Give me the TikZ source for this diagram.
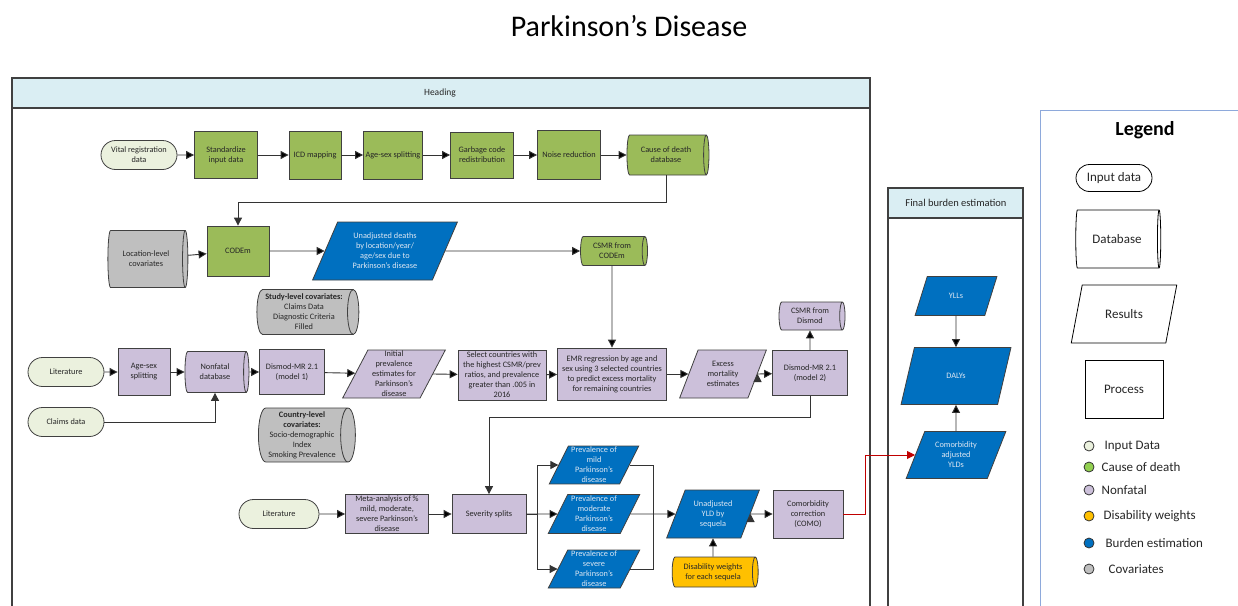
\documentclass[tikz,border=0pt]{standalone}
\usepackage{fontspec}
\setmainfont{Carlito}
\usetikzlibrary{shapes.geometric,shapes.misc,arrows.meta,positioning}

\definecolor{inpfill}{HTML}{EBF1DE}
\definecolor{codfill}{HTML}{9BBB59}
\definecolor{nffill}{HTML}{CCC0DA}
\definecolor{burfill}{HTML}{0070C0}
\definecolor{covfill}{HTML}{BFBFBF}
\definecolor{dwfill}{HTML}{FFC000}
\definecolor{headfill}{HTML}{DAEEF3}
\definecolor{lgline}{HTML}{8EA9DB}
\definecolor{edgegray}{HTML}{404040}
\definecolor{comored}{HTML}{C00000}
\definecolor{burtext}{HTML}{DCE6F2}
\definecolor{lgreen}{HTML}{92D050}

\begin{document}
\begin{tikzpicture}[x=1pt,y=-1pt,
  every node/.style={font=\fontsize{8.3}{10}\selectfont,text=black!85,align=center,inner sep=1pt},
  inp/.style={rounded rectangle,draw=edgegray,line width=0.8pt,fill=inpfill,minimum width=78,minimum height=29},
  proc/.style={rectangle,draw=edgegray,line width=0.8pt,fill=nffill},
  db/.style={cylinder,draw=edgegray,line width=0.8pt,shape aspect=0.3,fill=nffill},
  res/.style={trapezium,trapezium left angle=65,trapezium right angle=115,trapezium stretches=true,draw=edgegray,line width=0.8pt,fill=nffill},
  blue/.style={fill=burfill,text=burtext},
  arr/.style={draw=black!80,line width=0.9pt,-{Triangle[length=8pt,width=8pt]}},
  frame/.style={draw=edgegray,line width=1.2pt},
  dot/.style={circle,draw=black!80,line width=0.8pt,minimum size=10,inner sep=0pt},
  lgfont/.style={font=\fontsize{13}{15}\selectfont},
  lgtext/.style={lgfont,anchor=west}]

\useasboundingbox (0,0) rectangle (1238,605);
\clip (0,0) rectangle (1238,605);

\node[font=\fontsize{30}{34}\selectfont,text=black] (title) at (629,26) {Parkinson’s Disease};

% frames
\draw[frame,fill=white] (12,78) rectangle (870,640);
\draw[frame,fill=headfill] (12,78) rectangle (870,108);
\node[font=\fontsize{9.5}{11}\selectfont] (heading) at (440,93) {Heading};
\draw[frame,fill=white] (888,188) rectangle (1023,640);
\draw[frame,fill=headfill] (888,188) rectangle (1023,218);
\node[font=\fontsize{10.5}{12}\selectfont] (fbe) at (956,203) {Final burden estimation};
\draw[draw=lgline,line width=0.8pt] (1040,110) rectangle (1260,640);

% cause of death
\node[inp] (vital) at (139,155) {Vital registration\\data};
\node[proc,fill=codfill,minimum width=63,minimum height=47] (std) at (226,155) {Standardize\\input data};
\node[proc,fill=codfill,minimum width=52,minimum height=48] (icd) at (315,155) {ICD mapping};
\node[proc,fill=codfill,minimum width=59,minimum height=48] (agesex1) at (393,155) {Age-sex splitting};
\node[proc,fill=codfill,minimum width=63,minimum height=46] (garb) at (482,155) {Garbage code\\redistribution};
\node[proc,fill=codfill,minimum width=63,minimum height=49] (noise) at (569,155) {Noise reduction};
\node[db,fill=codfill,minimum height=82,minimum width=40] (codb) at (666,155) {Cause of death\\database};

\node[db,fill=covfill,minimum height=80,minimum width=57] (loccov) at (146,259) {Location-level\\covariates};
\node[proc,fill=codfill,minimum width=62,minimum height=50] (codem) at (238,251) {CODEm};
\node[res,blue,minimum width=145,minimum height=58] (undeaths) at (385,251) {Unadjusted deaths\\by location/year/\\age/sex due to\\Parkinson’s disease};
\node[db,fill=codfill,minimum height=67,minimum width=29] (csmr1) at (612,251) {CSMR from\\CODEm};

\path[arr] (vital) edge (std) (std) edge (icd) (icd) edge (agesex1)
  (agesex1) edge (garb) (garb) edge (noise) (noise) edge (codb);
\draw[arr] (codb.south) -- ++(0,27) -| (codem.north);
\path[arr] (loccov) edge (codem) (codem) edge (undeaths) (undeaths) edge (csmr1);

% nonfatal
\node[db,fill=covfill,minimum height=102,minimum width=45] (studycov) at (304,312) {\textbf{Study-level covariates:}\\Claims Data\\Diagnostic Criteria\\Filled};
\node[inp] (lit1) at (66,372) {Literature};
\node[proc,minimum width=52,minimum height=47] (agesex2) at (144,372) {Age-sex\\splitting};
\node[db,minimum height=64,minimum width=41] (nfdb) at (215,372) {Nonfatal\\database};
\node[proc,minimum width=65,minimum height=45] (dm1) at (292,372) {Dismod-MR 2.1\\(model 1)};
\node[res,minimum width=103,minimum height=48] (initprev) at (394,374) {Initial\\prevalence\\estimates for\\Parkinson’s\\disease};
\node[proc,minimum width=88,minimum height=50] (select) at (502,375) {Select countries with\\the highest CSMR/prev\\ratios, and prevalence\\greater than .005 in\\2016};
\node[proc,minimum width=109,minimum height=52] (emr) at (612,374) {EMR regression by age and\\sex using 3 selected countries\\to predict excess mortality\\for remaining countries};
\node[res,minimum width=87,minimum height=48] (excess) at (723,374) {Excess\\mortality\\estimates};
\node[proc,minimum width=75,minimum height=45] (dm2) at (810,373) {Dismod-MR 2.1\\(model 2)};
\node[db,minimum height=66,minimum width=28] (csmr2) [above of=dm2, node distance=57] {CSMR from\\Dismod};
\node[inp] (claims) at (66,422) {Claims data};
\node[db,fill=covfill,minimum height=97,minimum width=54] (countrycov) at (302,435) {\textbf{Country-level}\\\textbf{covariates:}\\Socio-demographic\\Index\\Smoking Prevalence};

\path[arr] (csmr1) edge (emr);
\path[arr] (lit1) edge (agesex2) (agesex2) edge (nfdb) (nfdb) edge (dm1)
  (dm1) edge (initprev) (initprev.east) edge (select) (select) edge (emr)
  (emr) edge (excess) (excess.east) edge (dm2);
\path[arr] (dm2) edge (csmr2);
\draw[arr] (claims.east) -| (nfdb.south);

% severity and burden
\node[inp,minimum width=82] (lit2) at (279,514) {Literature};
\node[proc,minimum width=83,minimum height=39] (meta) at (387,514) {Meta-analysis of \%\\mild, moderate,\\severe Parkinson’s\\disease};
\node[proc,minimum width=74,minimum height=39] (sev) at (489,514) {Severity splits};
\node[res,blue,minimum width=92,minimum height=39] (moder) at (594,514) {Prevalence of\\moderate\\Parkinson’s\\disease};
\node[res,blue,minimum width=90,minimum height=37] (mild) [above of=moder, node distance=49] {Prevalence of\\mild\\Parkinson’s\\disease};
\node[res,blue,minimum width=92,minimum height=38] (severe) [below of=moder, node distance=55] {Prevalence of\\severe\\Parkinson’s\\disease};
\node[res,blue,minimum width=93,minimum height=48] (yld) at (713,514) {Unadjusted\\YLD by\\sequela};
\node[proc,minimum width=70,minimum height=48] (como) at (808,514) {Comorbidity\\correction\\(COMO)};
\node[db,fill=dwfill,minimum height=86,minimum width=30] (dw) [below of=yld, node distance=58] {Disability weights\\for each sequela};
\coordinate (junc) at (653,514);

\draw[arr] (dm2.south) -- ++(0,22) -| (sev.north);
\path[arr] (lit2) edge (meta) (meta) edge (sev) (sev) edge (moder);
\draw[arr] (sev.east) -- ++(11,0) |- (mild.west);
\draw[arr] (sev.east) -- ++(11,0) |- (severe.west);
\draw[draw=black!80,line width=0.9pt] (mild.east) -| (junc) (severe.east) -| (junc);
\path[arr] (moder.east) edge (yld) (dw) edge (yld) (yld.east) edge (como);

% final burden
\node[res,blue,minimum width=82,minimum height=39] (ylls) at (956,296) {YLLs};
\node[res,blue,minimum width=110,minimum height=57] (dalys) at (956,376) {DALYs};
\node[res,blue,minimum width=100,minimum height=47] (cyld) at (956,455) {Comorbidity\\adjusted\\YLDs};
\path[arr] (ylls) edge (dalys) (cyld) edge (dalys);
\draw[arr,draw=comored] (como.east) -- ++(22,0) |- (cyld.west);

% legend
\node[font=\bfseries\fontsize{20}{22}\selectfont,text=black] (legend) at (1145,130) {Legend};
\node[inp,fill=white,draw=black,minimum height=27,lgfont] (lginp) at (1114,178) {Input data};
\node[db,fill=white,draw=black,minimum height=85,minimum width=58,lgfont] (lgdb) at (1117,239) {Database};
\node[res,fill=white,draw=black,minimum width=106,minimum height=58,lgfont] (lgres) at (1124,314) {Results};
\node[proc,fill=white,draw=black,minimum width=78,minimum height=58,lgfont] (lgproc) at (1124,389) {Process};
\node[dot,fill=inpfill] (d1) at (1089,446) {};
\node[dot,fill=lgreen] (d2) at (1089,467) {};
\node[dot,fill=nffill] (d3) at (1089,490) {};
\node[dot,fill=dwfill] (d4) at (1089,516) {};
\node[dot,fill=burfill] (d5) at (1089,543) {};
\node[dot,fill=covfill] (d6) at (1089,569) {};
\node[lgtext] at ([xshift=9pt]d1.east) {Input Data};
\node[lgtext] at ([xshift=6pt]d2.east) {Cause of death};
\node[lgtext] at ([xshift=6pt]d3.east) {Nonfatal};
\node[lgtext] at ([xshift=8pt]d4.east) {Disability weights};
\node[lgtext] at ([xshift=10pt]d5.east) {Burden estimation};
\node[lgtext] at ([xshift=13pt]d6.east) {Covariates};

\end{tikzpicture}
\end{document}
